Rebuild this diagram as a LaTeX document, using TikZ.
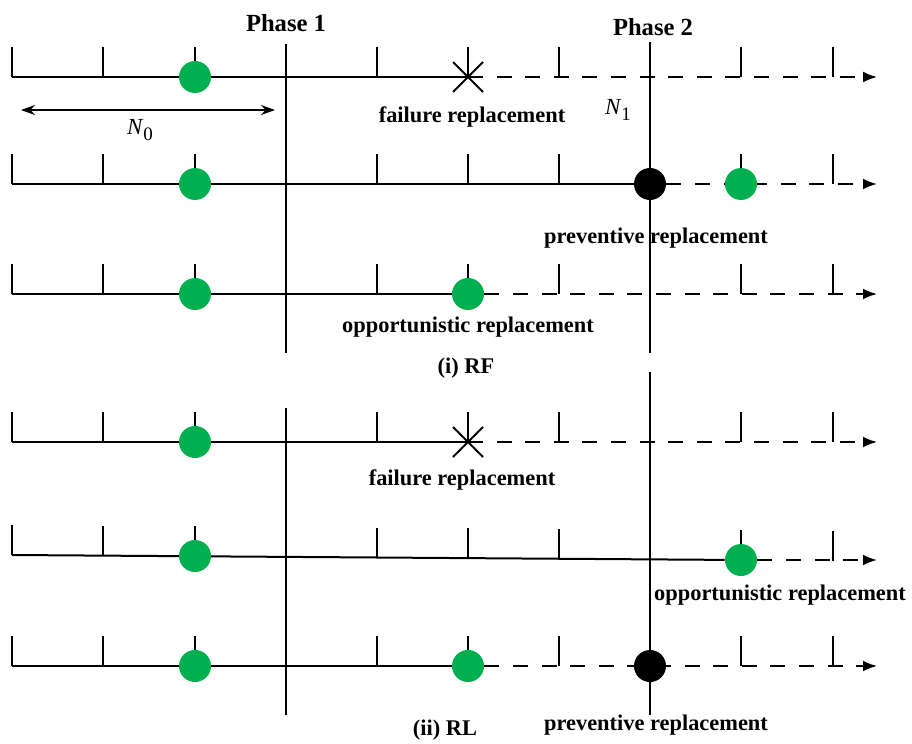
\documentclass[tikz,border=0pt]{standalone}
\usepackage{fontspec}
\setmainfont{Liberation Serif}
\usetikzlibrary{arrows.meta,shapes.misc}
\definecolor{okgreen}{HTML}{00B050}

\begin{document}
\begin{tikzpicture}[x=0.5pt, y=-0.5pt,
    solidline/.style={line width=1pt},
    dashline/.style={line width=1pt, dash pattern=on 7.5pt off 6.8pt,
      -{Latex[length=7pt,width=5.5pt]}},
    tickmark/.style={line width=1pt},
    okdot/.style={circle, fill=okgreen, minimum size=16pt, inner sep=0pt},
    pmdot/.style={circle, fill=black, minimum size=16pt, inner sep=0pt},
    failx/.style={cross out, draw, line width=1pt, minimum size=14pt, inner sep=0pt},
    lbl/.style={font=\bfseries\fontsize{11.2}{13}\selectfont, inner sep=0pt},
    phaselbl/.style={font=\bfseries\fontsize{12.3}{14}\selectfont, inner sep=0pt},
    symlbl/.style={font=\fontsize{11.5}{13}\selectfont, inner sep=0pt}]
  \useasboundingbox (0,0) rectangle (912,744);

  % phase boundaries
  \coordinate (p1a) at (286,44);  \coordinate (p1b) at (286,353);
  \coordinate (p2a) at (650,42);  \coordinate (p2b) at (650,353);
  \coordinate (p1c) at (286,408); \coordinate (p1d) at (286,715);
  \coordinate (p2c) at (650,372); \coordinate (p2d) at (650,715);
  \draw[solidline] (p1a) -- (p1b) (p2a) -- (p2b) (p1c) -- (p1d) (p2c) -- (p2d);
  \node[phaselbl] (ph1) at (286,23) {Phase 1};
  \node[phaselbl] (ph2) at (653,27) {Phase 2};

  % ticks
  \foreach \y in {77,184,294,442,666}
    \foreach \t in {12,103,195,377,468,559,741,833}
      \draw[tickmark] (\t,\y) -- ++(0,-30);
  \foreach \t in {12,103,195,377,468,559,741,833}
    \draw[tickmark] (\t,{555+0.00686*(\t-12)}) -- ++(0,-30);

  % (i) RF
  \coordinate (a0) at (12,77);  \coordinate (a1) at (877,77);
  \node[failx] (ax) at (468,77) {};
  \draw[solidline] (a0) -- (ax.center);
  \draw[dashline] (ax.center) -- (a1);
  \node[okdot] (ag) at (195,77) {};
  \node[lbl] (af) at (472,117) {failure replacement};

  \coordinate (n0l) at (21,110); \coordinate (n0r) at (275,110);
  \draw[line width=0.6pt, {Stealth[length=7pt,width=5pt]}-{Stealth[length=7pt,width=5pt]}] (n0l) -- (n0r);
  \node[symlbl] (n0) at (140,130) {\textit{N}\raisebox{-0.6ex}{\fontsize{9.5}{10}\selectfont 0}};
  \node[symlbl] (n1) at (618,110) {\textit{N}\raisebox{-0.6ex}{\fontsize{9.5}{10}\selectfont 1}};

  \coordinate (b0) at (12,184); \coordinate (b1) at (877,184);
  \node[pmdot] (bp) at (650,184) {};
  \draw[solidline] (b0) -- (bp);
  \draw[dashline] (bp) -- (b1);
  \node[okdot] (bg) at (195,184) {};
  \node[okdot] (bg2) at (741,184) {};
  \node[lbl] (bpl) at (656,238) {preventive replacement};

  \coordinate (c0) at (12,294); \coordinate (c1) at (877,294);
  \node[okdot] (co) at (468,294) {};
  \draw[solidline] (c0) -- (co);
  \draw[dashline] (co) -- (c1);
  \node[okdot] (cg) at (195,294) {};
  \node[lbl] (col) at (468,327) {opportunistic replacement};
  \node[lbl] (rf) at (466,368) {(i) RF};

  % (ii) RL
  \coordinate (d0) at (12,442); \coordinate (d1) at (877,442);
  \node[failx] (dx) at (468,442) {};
  \draw[solidline] (d0) -- (dx.center);
  \draw[dashline] (dx.center) -- (d1);
  \node[okdot] (dg) at (195,442) {};
  \node[lbl] (df) at (462,480) {failure replacement};

  \coordinate (e0) at (12,555); \coordinate (e1) at (877,560);
  \node[okdot] (eo) at (741,560) {};
  \draw[solidline] (e0) -- (eo);
  \draw[dashline] (eo) -- (e1);
  \node[okdot] (eg) at (195,556) {};
  \node[lbl] (eol) at (780,595) {opportunistic replacement};

  \coordinate (f0) at (12,666); \coordinate (f1) at (877,666);
  \node[okdot] (fo) at (468,666) {};
  \draw[solidline] (f0) -- (fo);
  \draw[dashline] (fo) -- (f1);
  \node[okdot] (fg) at (195,666) {};
  \node[pmdot] (fp) at (650,666) {};
  \node[lbl] (fpl) at (656,725) {preventive replacement};
  \node[lbl] (rl) at (445,730) {(ii) RL};
\end{tikzpicture}
\end{document}
